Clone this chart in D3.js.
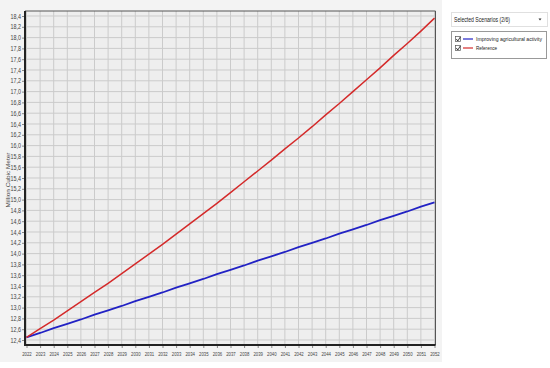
<!DOCTYPE html>
<html><head><meta charset="utf-8">
<script src="https://cdn.jsdelivr.net/npm/d3@7"></script>
<style>body{margin:0;background:#fff;}svg{display:block;}</style>
</head><body>
<svg id="c" width="550" height="368"></svg>
<script>
const years = d3.range(2022, 2053);
const improving = [12.45,12.53,12.62,12.70,12.78,12.87,12.95,13.03,13.12,13.20,13.28,13.37,13.45,13.53,13.62,13.70,13.78,13.87,13.95,14.03,14.12,14.20,14.28,14.37,14.45,14.53,14.62,14.70,14.78,14.87,14.95];
const reference = [12.45,12.61,12.77,12.94,13.11,13.28,13.45,13.63,13.81,13.99,14.17,14.36,14.55,14.74,14.93,15.13,15.33,15.53,15.73,15.94,16.14,16.35,16.57,16.78,17.00,17.22,17.44,17.67,17.89,18.12,18.36];
const yTicks = d3.range(0, 31).map(i => +(12.4 + i * 0.2).toFixed(1));
const seriesNames = ["Improving agricultural activity", "Reference"];
const seriesColors = ["#2222c4", "#d42a2a"];
const yTitle = "Million Cubic Meter";
const dropdownText = "Selected Scenarios (2/6)";

const FONT = "Arial, Liberation Sans, sans-serif";
const svg = d3.select("#c");
const L = 25, R = 435.5, T = 11, B = 345;
svg.append("rect").attr("x",0).attr("y",0).attr("width",442).attr("height",362).attr("fill","#f3f3f3");
svg.append("rect").attr("x",L).attr("y",T).attr("width",R-L).attr("height",B-T).attr("fill","#eeeeee");

const x = d3.scaleLinear().domain([2022, 2052]).range([26.5, 434.5]);
const y = d3.scaleLinear().domain([12.4, 18.4]).range([340, 16]);

const g = svg.append("g");
g.selectAll(".vg").data(years).join("line")
  .attr("x1", d => x(d)).attr("x2", d => x(d)).attr("y1", T).attr("y2", B)
  .attr("stroke", "#cbcbcb").attr("stroke-width", 1);
g.selectAll(".hg").data(yTicks).join("line")
  .attr("x1", L).attr("x2", R).attr("y1", d => y(d)).attr("y2", d => y(d))
  .attr("stroke", "#cbcbcb").attr("stroke-width", 1);

svg.append("line").attr("x1",L).attr("x2",R).attr("y1",T).attr("y2",T).attr("stroke","#555").attr("stroke-width",1);
svg.append("line").attr("x1",R).attr("x2",R).attr("y1",T).attr("y2",B).attr("stroke","#555").attr("stroke-width",1);

const yAxis = d3.axisLeft(y).tickValues(yTicks).tickSize(3).tickFormat(d => d3.format(".1f")(d).replace(".", ","));
const ya = svg.append("g").attr("transform", `translate(${L},0)`).call(yAxis);
ya.select(".domain").remove();
ya.selectAll("line").attr("stroke","#888");
ya.selectAll("text").attr("font-family",FONT).attr("font-size","6.5px").attr("fill","#444").attr("x",-4)
  .attr("textLength",10.5).attr("lengthAdjust","spacingAndGlyphs");

const xAxis = d3.axisBottom(x).tickValues(years).tickSize(3).tickFormat(d3.format("d"));
const xa = svg.append("g").attr("transform", `translate(0,${B})`).call(xAxis);
xa.select(".domain").remove();
xa.selectAll("line").attr("stroke","#888");
xa.selectAll("text").attr("font-family",FONT).attr("font-size","6px").attr("fill","#444").attr("y",6.5)
  .attr("textLength",9.5).attr("lengthAdjust","spacingAndGlyphs");

svg.append("line").attr("x1",L).attr("x2",L).attr("y1",T).attr("y2",B+1).attr("stroke","#222").attr("stroke-width",2);
svg.append("line").attr("x1",L).attr("x2",R).attr("y1",B).attr("y2",B).attr("stroke","#222").attr("stroke-width",2);

svg.append("text").attr("transform","translate(10,180) rotate(-90)").attr("text-anchor","middle")
  .attr("font-family",FONT).attr("font-size","6px").attr("fill","#444")
  .attr("textLength",55).attr("lengthAdjust","spacingAndGlyphs").text(yTitle);

const line = d3.line().x((d,i) => x(years[i])).y(d => y(d));
[improving, reference].forEach((s, k) => {
  svg.append("path").datum(s).attr("d", line).attr("fill","none")
    .attr("stroke", seriesColors[k]).attr("stroke-width", k === 0 ? 1.8 : 1.5);
});

svg.append("rect").attr("x",451.5).attr("y",12.5).attr("width",96).attr("height",14).attr("fill","#fff").attr("stroke","#e0e0e0");
svg.append("text").attr("x",454).attr("y",22).attr("font-family",FONT).attr("font-size","6.3px").attr("fill","#222")
  .attr("textLength",56).attr("lengthAdjust","spacingAndGlyphs").text(dropdownText);
svg.append("path").attr("d","M538.5,18.5 l3,0 l-1.5,2 z").attr("fill","#333");

svg.append("rect").attr("x",451.5).attr("y",31.5).attr("width",95).attr("height",27).attr("fill","#fff").attr("stroke","#999");
const legendLens = [66, 21];
seriesNames.forEach((n, k) => {
  const yy = 40 + k * 9;
  svg.append("rect").attr("x",455.5).attr("y",yy-3.5).attr("width",5).attr("height",5).attr("fill","#fff").attr("stroke","#555").attr("stroke-width",0.7);
  svg.append("path").attr("d",`M456.3,${yy-1} l1.5,2 l2.5,-4`).attr("fill","none").attr("stroke","#111").attr("stroke-width",0.8);
  svg.append("line").attr("x1",463).attr("x2",473).attr("y1",yy-1).attr("y2",yy-1).attr("stroke",seriesColors[k]).attr("stroke-width",1.2);
  svg.append("text").attr("x",476).attr("y",yy+1).attr("font-family",FONT).attr("font-size","5.2px").attr("fill","#222")
    .attr("textLength",legendLens[k]).attr("lengthAdjust","spacingAndGlyphs").text(n);
});
</script>
</body></html>
